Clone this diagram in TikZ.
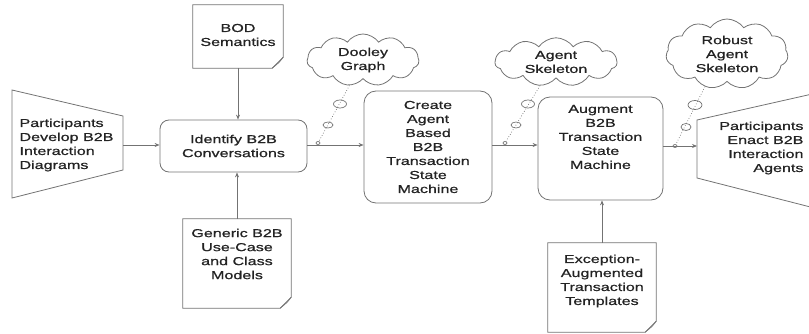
\documentclass[tikz,border=0pt]{standalone}
\usepackage{fontspec}
\newfontfamily\wide{Liberation Sans}[FakeStretch=1.4,FakeBold=0.8]
\usetikzlibrary{shapes.symbols,shapes.geometric,arrows.meta}
\definecolor{lineg}{RGB}{115,115,115}
\definecolor{txt}{RGB}{35,35,35}
\newcommand\docshape[1]{%
  \draw[docline] (#1.north west) -- (#1.north east) -- ([yshift=11pt]#1.south east)
    -- ([xshift=-11pt]#1.south east) -- (#1.south west) -- cycle;
  \draw[docline] ([yshift=11pt]#1.south east) -- ([xshift=-4pt,yshift=6pt]#1.south east)
    -- ([xshift=-11pt]#1.south east);}
\begin{document}
\begin{tikzpicture}[x=1pt,y=-1pt,
  lbl/.style={font={\wide\fontsize{11.5pt}{14pt}\selectfont}, text=txt, align=center},
  proc/.style={lbl, draw=lineg, line width=0.8pt, rounded corners=9pt, inner sep=0pt},
  docbox/.style={inner sep=0pt},
  docline/.style={draw=lineg, line width=0.8pt, line join=miter},
  arr/.style={draw=lineg, line width=0.8pt, -{Stealth[length=5pt,width=4pt]}},
  thought/.style={cloud, draw=lineg, line width=0.8pt, cloud puffs=11, cloud puff arc=110,
    inner sep=0pt, lbl},
  bub/.style={ellipse, draw=lineg, line width=0.7pt, inner sep=0pt},
  dots/.style={draw=lineg, line width=0.7pt, dotted}]
\useasboundingbox (0,0) rectangle (809,334);
\clip (0,0) rectangle (809,334);

% left trapezoid
\draw[docline] (12,90) -- (123,116) -- (123,170) -- (12,198) -- cycle;
\node[lbl, align=left, anchor=west] (ltxt) at (16,145)
  {Participants\\Develop B2B\\Interaction\\Diagrams};
\coordinate (pl) at (123,145);

% processes
\node[proc, minimum width=147pt, minimum height=52pt] (ident) at (233.5,146)
  {Identify B2B\\Conversations};
\node[proc, rounded corners=12pt, minimum width=128pt, minimum height=112pt] (create) at (428,147)
  {Create\\Agent\\Based\\B2B\\Transaction\\State\\Machine};
\node[proc, rounded corners=12pt, minimum width=125pt, minimum height=103pt] (augm) at (600.5,148.5) {};
\node[lbl] (augmt) at (600.5,137) {Augment\\B2B\\Transaction\\State\\Machine};

% documents
\node[docbox, minimum width=90pt, minimum height=63pt] (bod) at (238,36.5) {};
\docshape{bod}
\node[lbl] (bodt) at (238,35) {BOD\\Semantics};
\node[docbox, minimum width=108pt, minimum height=89pt] (gen) at (237,263.5) {};
\docshape{gen}
\node[lbl] (gent) at (237,254) {Generic B2B\\Use-Case\\and Class\\Models};
\node[docbox, minimum width=108pt, minimum height=89pt] (exc) at (602,287.5) {};
\docshape{exc}
\node[lbl] (exct) at (602,281) {Exception-\\Augmented\\Transaction\\Templates};

% right trapezoid
\draw[docline] (697,120) -- (830,90) -- (830,212) -- (697,178) -- cycle;
\node[lbl, align=right, anchor=east] (rtxt) at (807,148)
  {Participants\\Enact B2B\\Interaction\\Agents};
\coordinate (pr) at (697,146);

% clouds
\node[thought, aspect=2.1, minimum width=112pt, minimum height=52pt] (dooley) at (363,60)
  {Dooley\\Graph};
\node[thought, aspect=2.4, minimum width=122pt, minimum height=48pt] (askel) at (556,62)
  {Agent\\Skeleton};
\node[thought, aspect=1.7, minimum width=122pt, minimum height=70pt] (rskel) at (727,54)
  {Robust\\Agent\\Skeleton};

% thought bubbles
\node[bub, minimum width=4pt, minimum height=3pt] (d3) at (318,143) {};
\node[bub, minimum width=10pt, minimum height=6pt] (d2) at (328,125) {};
\node[bub, minimum width=13pt, minimum height=8pt] (d1) at (340,104) {};
\draw[dots] (dooley.242) -- (d3);

\node[bub, minimum width=4pt, minimum height=3pt] (a3) at (505,143) {};
\node[bub, minimum width=10pt, minimum height=6pt] (a2) at (516,125) {};
\node[bub, minimum width=13pt, minimum height=8pt] (a1) at (528,104) {};
\draw[dots] (askel.236) -- (a3);

\node[bub, minimum width=4pt, minimum height=3pt] (r3) at (675,146) {};
\node[bub, minimum width=10pt, minimum height=7pt] (r2) at (686,127) {};
\node[bub, minimum width=14pt, minimum height=9pt] (r1) at (695,105) {};
\draw[dots] (rskel.236) -- (r3);

% connectors
\draw[arr] (pl) -- (pl -| ident.west);
\draw[arr] (bod.south) -- (bod.south |- ident.north);
\draw[arr] (gen.north) -- (gen.north |- ident.south);
\draw[arr] (ident.east |- 0,145) -- (create.west |- 0,145);
\draw[arr] (create.east |- 0,145) -- (augm.west |- 0,145);
\draw[arr] (exc.north) -- (exc.north |- augm.south);
\draw[arr] (augm.east |- pr) -- (pr);
\end{tikzpicture}
\end{document}
